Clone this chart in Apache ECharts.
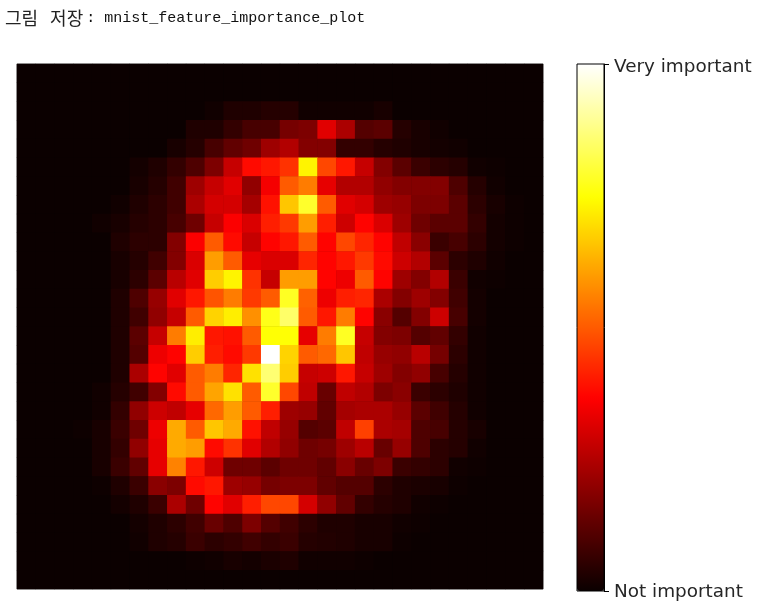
<!DOCTYPE html>
<html>
<head>
<meta charset="utf-8">
<title>mnist_feature_importance_plot</title>
<script src="https://cdn.jsdelivr.net/npm/echarts@6/dist/echarts.min.js"></script>
<style>
  html, body { margin: 0; padding: 0; background: #fff; }
  #chart { width: 762px; height: 613px; }
</style>
</head>
<body>
<div id="chart"></div>
<script>
const titleKo = ["그림", "저장"];
const titleEn = ": mnist_feature_importance_plot";
const tickLabels = ["Not important", "Very important"];
const valueRange = [0, 100];

// importance per pixel, top row first
const pixelRows = [
  [0,0,0,0,0,0,0,0,0,0,0,0,0,0,0,0,0,0,0,0,0,0,0,0,0,0,0,0],
  [0,0,0,0,0,0,0,0,0,0,0,0,0,0,0,0,0,0,0,0,0,0,0,0,0,0,0,0],
  [0,0,0,0,0,0,0,0,0,0,1,3,3,4,4,1,1,1,1,2,0,0,0,0,0,0,0,0],
  [0,0,0,0,0,0,0,0,0,3,3,6,9,9,16,17,32,24,11,12,4,2,1,0,0,0,0,0],
  [0,0,0,0,0,0,0,0,2,4,9,13,15,22,25,18,18,6,6,4,3,2,1.5,1,0,0,0,0],
  [0,0,0,0,0,0,1.5,3,6,10,17,28,38,40,44,73,47,40,28,18,12,7,5,4,1,0.5,0,0],
  [0,0,0,0,0,0,2,4,8,22,28,32,20,35,50,55,33,25,25,20,18,18,18,10,4,1,0,0],
  [0,0,0,0,0,1,3,5,8,24,30,30,23,39,66,79,50,32,30,22,21,17,17,12,5,2,0.5,0],
  [0,0,0,0,1,2,4,5,9,15,28,36,31,41,45,60,41,29,37,31,22,15,12,12,6,1.5,0.5,0],
  [0,0,0,0,0,3,5,5,18,36,50,38,28,37,40,50,37,47,42,37,27,19,7,9,5,1.5,0.5,0],
  [0,0,0,0,0,2,4,8,18,31,60,50,33,31,31,42,37,40,45,38,29,25,12,5,3,1,0,0],
  [0,0,0,0,0,2,5,12,26,32,67,73,44,28,60,60,37,34,50,37,22,18,25,7,1,0.5,0,0],
  [0,0,0,0,0,3,10,21,32,40,49,55,45,50,78,51,34,41,42,24,18,22,18,8,1.5,0,0,0],
  [0,0,0,0,0,3,8,20,28,50,68,72,58,77,85,50,40,55,37,19,11,18,29,9,1.5,0,0,0],
  [0,0,0,0,0,3,12,28,55,72,40,39,50,75,75,33,55,78,28,18,17,11,13,6,1,0,0,0],
  [0,0,0,0,0,3,11,34,37,67,41,38,45,100,68,50,52,66,27,21,20,26,16,5,1,0,0,0],
  [0,0,0,0,0,3,24,37,32,50,55,42,70,86,67,28,29,40,28,22,18,20,9,4,1,0,0,0],
  [0,0,0,0,1,4,8,18,38,50,61,70,50,79,47,27,14,27,25,17,19,7,5,3,1,0,0,0],
  [0,0,0,0,1,6,20,29,27,33,52,60,50,41,22,21,13,23,24,24,21,12,8,4,1,0,0,0],
  [0,0,0,0.5,2,7,15,34,62,50,66,62,39,27,21,11,12,27,46,24,23,10,9,4,2,0,0,0],
  [0,0,0,0,2,6,20,33,62,60,38,44,32,25,20,15,16,22,26,14,21,10,5,4,1,0,0,0],
  [0,0,0,0,2,7,13,33,56,40,29,15,15,12,15,15,13,19,14,17,7,6,5,1,0.5,0,0,0],
  [0,0,0,0,0.5,3,7,19,17,38,40,22,21,16,17,17,13,11,11,5,3,2.5,2,0.5,0,0,0,0],
  [0,0,0,0,0,1.5,3,7,24,15,37,32,41,47,47,30,20,13,6,4,3,1,0.5,0,0,0,0,0],
  [0,0,0,0,0,0,1.5,3,5,8,14,10,17,11,8,5,3,3,2,2,1,0.5,0,0,0,0,0,0],
  [0,0,0,0,0,0,1,3,4,7,5,6,8,6,7,4,3.5,3,2,2,0.5,0,0,0,0,0,0,0],
  [0,0,0,0,0,0,0,0,0,0.5,1,2,1.5,2.5,3,1,1,1,0.5,0,0,0,0,0,0,0,0,0],
  [0,0,0,0,0,0,0,0,0,0,0,0,0,0,0,0,0,0,0,0,0,0,0,0,0,0,0,0]
];

const pixelIndex = pixelRows.map((row, i) => i);

// matplotlib "hot" colormap
function hotStops(n) {
  let out = [];
  for (let i = 0; i < n; i++) {
    let t = i / (n - 1);
    let r = Math.min(1, 0.0416 + (t / 0.365) * 0.9584);
    let g = Math.max(0, Math.min(1, (t - 0.365) / 0.381));
    let b = Math.max(0, Math.min(1, (t - 0.746) / 0.254));
    out.push(`rgb(${Math.round(r * 255)},${Math.round(g * 255)},${Math.round(b * 255)})`);
  }
  return out;
}

let cells = [];
pixelRows.forEach((row, y) => {
  row.forEach((v, x) => {
    cells.push([x, y, v]);
  });
});

const monoFont = "'Liberation Mono', 'Noto Sans CJK KR', monospace";

const chart = echarts.init(document.getElementById("chart"));
chart.setOption({
  animation: false,
  title: {
    text: `{ko|${titleKo[0]}} {ko|${titleKo[1]}}{en|${titleEn}}`,
    left: 5,
    top: 9,
    padding: 0,
    textStyle: {
      fontFamily: monoFont,
      fontSize: 15,
      fontWeight: "normal",
      color: "#000",
      rich: {
        ko: { fontFamily: "'Noto Sans CJK KR', sans-serif", fontSize: 18, color: "#222", padding: [0, 3, 0, 0] },
        en: { fontFamily: monoFont, fontSize: 15, color: "#111" }
      }
    }
  },
  grid: [
    { left: 17, top: 64, width: 526, height: 525, show: true, borderColor: "#777", borderWidth: 1, backgroundColor: "#0b0000" },
    { left: 577, top: 64, width: 27, height: 527, show: true, borderColor: "#000", borderWidth: 1, backgroundColor: "transparent", z: 5 }
  ],
  xAxis: [
    { type: "category", gridIndex: 0, data: pixelIndex, show: false },
    { type: "value", gridIndex: 1, show: false, min: 0, max: 1 }
  ],
  yAxis: [
    { type: "category", gridIndex: 0, data: pixelIndex, inverse: true, show: false },
    {
      type: "value",
      gridIndex: 1,
      position: "right",
      min: valueRange[0],
      max: valueRange[1],
      interval: valueRange[1] - valueRange[0],
      z: 5,
      splitLine: { show: false },
      axisLine: { show: true, onZero: false, lineStyle: { color: "#000" } },
      axisTick: { show: true, length: 5, lineStyle: { color: "#000" } },
      axisLabel: {
        margin: 10,
        fontFamily: "'DejaVu Sans', sans-serif",
        fontSize: 18.4,
        color: "#262626",
        formatter: v => (v === valueRange[1] ? `{top|${tickLabels[1]}}` : `{bottom|${tickLabels[0]}}`),
        rich: {
          top: { fontFamily: "'DejaVu Sans', sans-serif", fontSize: 18.4, color: "#262626", padding: [6, 0, 0, 0] },
          bottom: { fontFamily: "'DejaVu Sans', sans-serif", fontSize: 18.4, color: "#262626", padding: [2, 0, 0, 0] }
        }
      }
    }
  ],
  visualMap: {
    type: "continuous",
    min: valueRange[0],
    max: valueRange[1],
    seriesIndex: 0,
    calculable: false,
    hoverLink: false,
    left: 577,
    top: 64,
    padding: 0,
    itemWidth: 27,
    itemHeight: 527,
    text: ["", ""],
    z: 0,
    inRange: { color: hotStops(256) }
  },
  series: [
    {
      type: "heatmap",
      xAxisIndex: 0,
      yAxisIndex: 0,
      data: cells,
      silent: true,
      itemStyle: { borderWidth: 0 },
      emphasis: { disabled: true }
    }
  ]
});
</script>
</body>
</html>
